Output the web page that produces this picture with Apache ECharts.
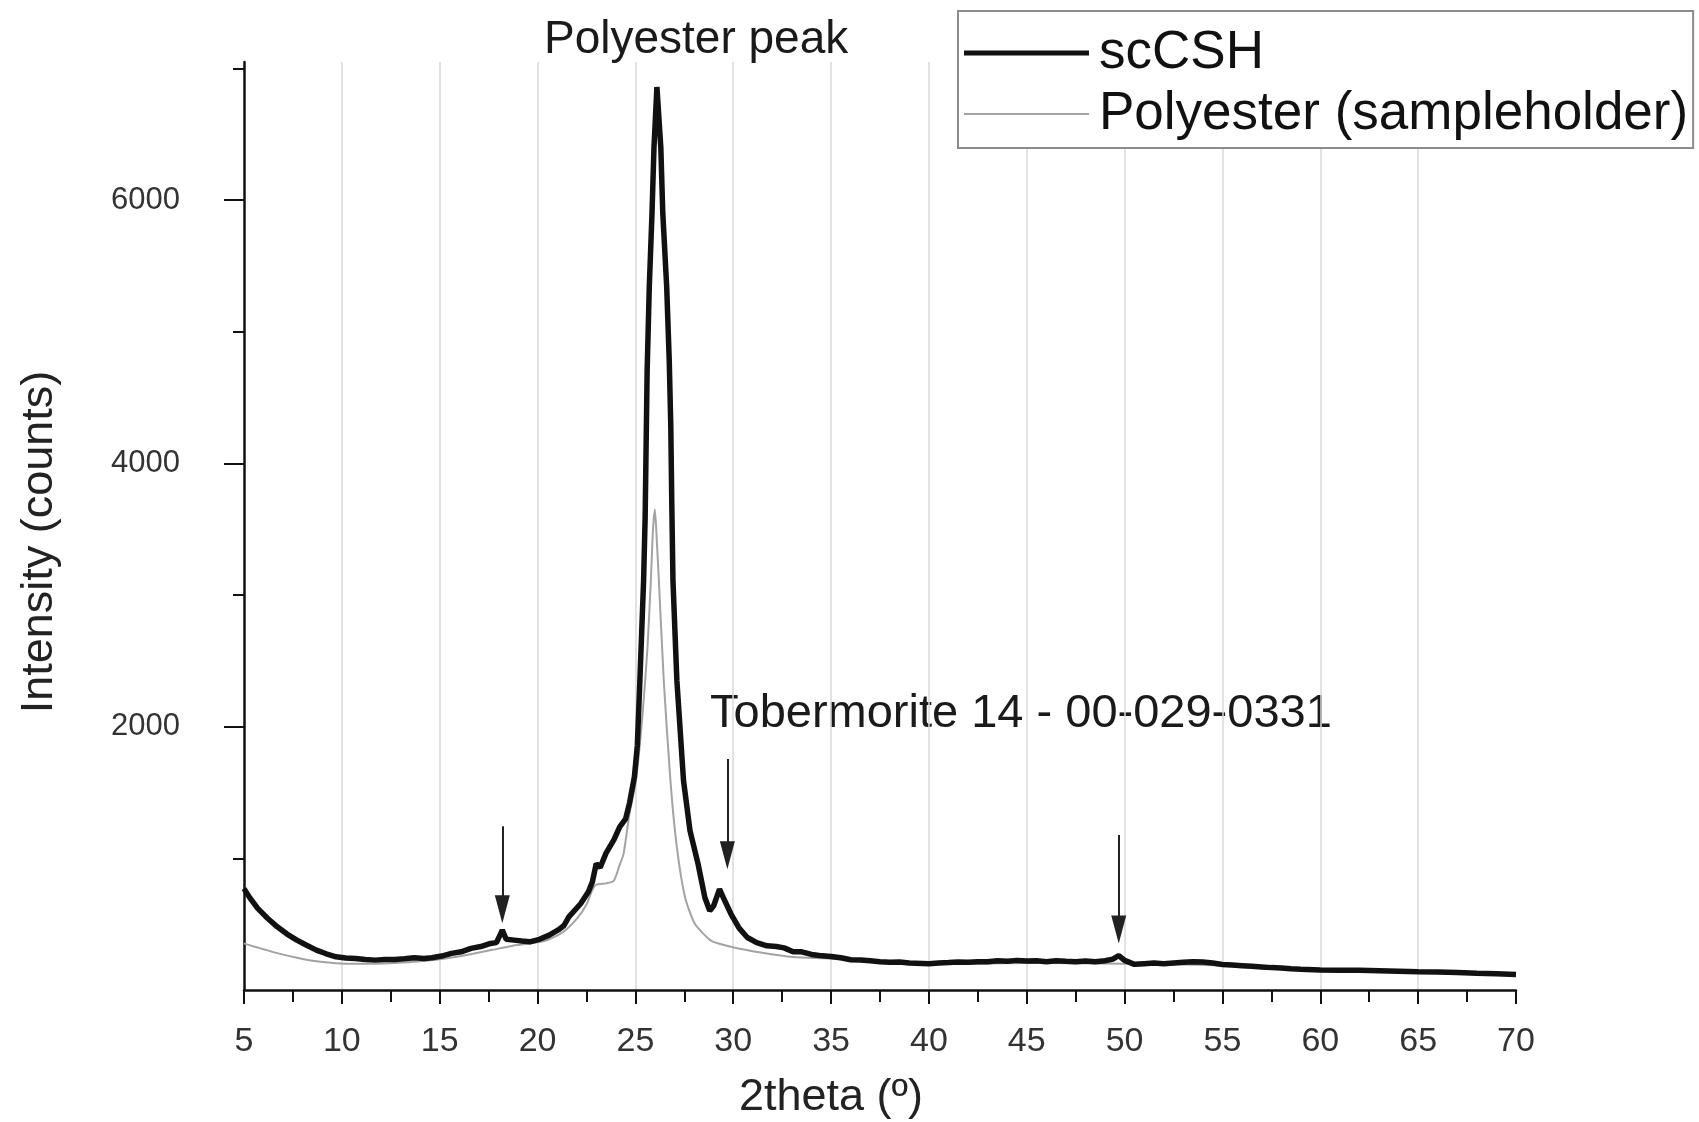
<!DOCTYPE html>
<html>
<head>
  <meta charset="utf-8">
  <title>scCSH XRD</title>
  <script src="https://cdn.jsdelivr.net/npm/echarts@6/dist/echarts.min.js"></script>
  <style>
    html, body { margin: 0; padding: 0; background: #ffffff; }
    #xrdChart { width: 1699px; height: 1122px; }
  </style>
</head>
<body>
<div id="xrdChart"></div>
<script>
  // scCSH pattern (2theta / counts)
  var csh2theta = [5.0, 5.3, 5.7, 6.2, 6.7, 7.2, 7.7, 8.2, 8.7, 9.2, 9.7, 10.2, 10.7, 11.2, 11.7, 12.2, 12.7, 13.2, 13.7, 14.2,
    14.6, 15.1, 15.6, 16.1, 16.6, 17.1, 17.6, 17.9, 18.2, 18.4, 18.8, 19.2, 19.6, 20.1, 20.6, 21.1, 21.35, 21.6, 22.2, 22.6,
    22.8, 23.0, 23.2, 23.5, 23.9, 24.2, 24.5, 24.7, 24.95, 25.1, 25.23, 25.42, 25.5, 25.6, 25.71, 25.85, 25.95, 26.1, 26.3, 26.4,
    26.6, 26.73, 26.81, 26.86, 26.92, 27.12, 27.46, 27.79, 28.2, 28.55, 28.8, 29.0, 29.3, 29.5, 29.88, 30.3, 30.72, 31.2, 31.72, 32.2,
    32.6, 33.06, 33.5, 34.0, 34.4, 35.0, 35.5, 36.0, 36.5, 37.0, 37.5, 38.0, 38.5, 39.0, 40.0, 40.5, 41.0, 41.5, 42.0, 42.5,
    43.0, 43.5, 44.0, 44.5, 45.0, 45.5, 46.0, 46.5, 47.0, 47.5, 48.0, 48.5, 49.0, 49.4, 49.7, 50.0, 50.5, 51.0, 51.5, 52.0,
    52.5, 53.0, 53.5, 54.0, 54.5, 55.0, 55.5, 56.0, 56.5, 57.0, 57.5, 58.0, 58.5, 59.0, 60.0, 61.0, 62.0, 63.0, 64.0, 65.0,
    66.0, 67.0, 68.0, 69.0, 70.0];
  var cshCounts = [770, 700, 620, 545, 480, 425, 379, 340, 303, 275, 252, 243, 240, 232, 227, 232, 232, 238, 245, 240,
    245, 258, 278, 290, 316, 330, 354, 360, 455, 385, 379, 372, 366, 385, 417, 460, 490, 556, 655, 747,
    820, 960, 930, 1040, 1140, 1240, 1300, 1420, 1620, 1860, 2352, 3112, 3600, 4700, 5342, 5903, 6400, 6860, 6400, 5903,
    5342, 4785, 4278, 3700, 3112, 2352, 1591, 1211, 960, 703, 602, 640, 766, 700, 579, 470, 399, 360, 336, 330,
    320, 290, 290, 270, 262, 255, 245, 230, 228, 222, 215, 210, 212, 205, 200, 205, 208, 212, 210, 215,
    215, 222, 218, 225, 220, 222, 215, 222, 218, 215, 220, 215, 222, 235, 262, 225, 195, 200, 205, 200,
    205, 210, 215, 212, 205, 194, 190, 185, 180, 175, 170, 168, 162, 158, 152, 150, 150, 146, 142, 138,
    136, 133, 128, 124, 118];

  // empty polyester sample holder
  var holder2theta = [5.0, 5.5, 6.0, 6.7, 7.7, 8.7, 9.7, 10.7, 11.7, 12.7, 13.7, 14.7, 15.7, 16.7, 17.7, 18.7, 19.7, 20.5, 21.3, 22.0,
    22.5, 22.8, 23.0, 23.5, 23.9, 24.2, 24.4, 24.7, 25.03, 25.37, 25.62, 25.79, 25.9, 26.0, 26.1, 26.2, 26.45, 26.79, 27.12, 27.54,
    28.04, 28.88, 30.05, 31.4, 33.06, 35.0, 37.5, 40.0, 42.5, 45.0, 47.5, 50.0, 52.5, 55.0, 57.5, 60.0, 62.5, 65.0, 67.5, 70.0];
  var holderCounts = [354, 330, 310, 280, 245, 218, 204, 200, 200, 205, 215, 228, 248, 275, 305, 335, 355, 380, 440, 540,
    650, 760, 800, 810, 830, 950, 1036, 1340, 1591, 2100, 2605, 3112, 3500, 3650, 3400, 3112, 2352, 1591, 1084, 703,
    503, 374, 323, 285, 250, 238, 210, 195, 200, 205, 203, 200, 195, 185, 162, 148, 142, 132, 125, 112];

  // Tobermorite 14 reflections marked with arrows
  var arrowAt = [18.2, 29.7, 49.7];
  var arrowTop = [1244, 1754, 1178];
  var arrowTip = [613, 1023, 460];

  var yMajorTicks = [2000, 4000, 6000];
  var yMinorTicks = [1000, 3000, 5000, 7000];

  function pairs(xs, ys) {
    var out = [];
    for (var i = 0; i < xs.length; i++) {
      out.push([xs[i], ys[i]]);
    }
    return out;
  }

  var arrowLines = arrowAt.map(function (x, i) {
    return [
      {coord: [x, arrowTop[i]], symbol: 'none'},
      {coord: [x, arrowTip[i]], symbol: 'path://M5,0 L10,24 L0,24 Z', symbolSize: [15, 28]}
    ];
  });

  // legend samples: thin bars inside a 125x20 box (moveTo points keep the box size)
  var thickIcon = 'path://M0,0 M125,20 M0,7.5 L125,7.5 L125,12.5 L0,12.5 Z';
  var thinIcon = 'path://M0,0 M125,20 M0,9 L125,9 L125,11 L0,11 Z';

  var font = '"Liberation Sans", Arial, sans-serif';
  var chart = echarts.init(document.getElementById('xrdChart'));

  chart.setOption({
    animation: false,
    backgroundColor: '#ffffff',
    textStyle: {fontFamily: font},
    grid: {left: 244, right: 183, top: 62, bottom: 132, outerBoundsMode: 'none'},
    legend: {
      orient: 'vertical',
      left: 958,
      top: 11,
      padding: [13, 5, 5, 6],
      itemGap: 3,
      itemWidth: 125,
      itemHeight: 20,
      backgroundColor: '#ffffff',
      borderColor: '#8c8c8c',
      borderWidth: 2,
      itemStyle: {borderWidth: 0},
      textStyle: {fontSize: 53, lineHeight: 58, color: '#111', fontFamily: font, padding: [0, 0, 0, 5]},
      data: [
        {name: 'scCSH', icon: thickIcon},
        {name: 'Polyester (sampleholder)', icon: thinIcon}
      ]
    },
    xAxis: {
      type: 'value',
      min: 5,
      max: 70,
      interval: 5,
      name: '2theta (º)',
      nameLocation: 'middle',
      nameGap: 85,
      nameTextStyle: {fontSize: 45, color: '#222', padding: [0, 98, 0, 0]},
      axisLine: {lineStyle: {color: '#111', width: 2.5}},
      axisTick: {length: 14, lineStyle: {color: '#111', width: 2}},
      minorTick: {show: true, splitNumber: 2, length: 12, lineStyle: {color: '#111', width: 2}},
      axisLabel: {fontSize: 34, color: '#333', margin: 35},
      splitLine: {show: true, showMinLine: false, showMaxLine: false, lineStyle: {color: '#d9d9d9', width: 1.5}}
    },
    yAxis: [{
      type: 'value',
      min: 0,
      max: 7050,
      interval: 1000,
      name: 'Intensity (counts)',
      nameLocation: 'middle',
      nameGap: 182,
      nameTextStyle: {fontSize: 45, color: '#222', padding: [0, 32, 0, 0]},
      axisLine: {show: true, lineStyle: {color: '#111', width: 2.5}},
      axisTick: {show: true, customValues: yMajorTicks, length: 20, lineStyle: {color: '#111', width: 2}},
      axisLabel: {
        customValues: yMajorTicks,
        fontSize: 31,
        color: '#333',
        margin: 64,
        formatter: function (v) { return String(v); }
      },
      splitLine: {show: false}
    }, {
      // minor ticks only
      type: 'value',
      position: 'left',
      min: 0,
      max: 7050,
      interval: 1000,
      axisLine: {show: false},
      axisTick: {show: true, customValues: yMinorTicks, length: 11, lineStyle: {color: '#111', width: 2}},
      axisLabel: {show: false},
      splitLine: {show: false}
    }],
    series: [
      {
        name: 'Polyester (sampleholder)',
        type: 'line',
        symbol: 'none',
        smooth: 0.2,
        z: 2,
        lineStyle: {color: '#a3a3a3', width: 2},
        itemStyle: {color: '#a3a3a3'},
        data: pairs(holder2theta, holderCounts)
      },
      {
        name: 'scCSH',
        type: 'line',
        symbol: 'none',
        z: 3,
        lineStyle: {color: '#111111', width: 5.5},
        itemStyle: {color: '#111111'},
        data: pairs(csh2theta, cshCounts),
        markLine: {
          silent: true,
          animation: false,
          label: {show: false},
          lineStyle: {color: '#222', width: 2, type: 'solid'},
          data: arrowLines
        }
      }
    ],
    graphic: [
      {
        type: 'text',
        left: 544,
        top: 17,
        style: {text: 'Polyester peak', font: '46px ' + font, fill: '#1a1a1a'}
      },
      {
        type: 'text',
        left: 710,
        top: 691,
        style: {text: 'Tobermorite 14 - 00-029-0331', font: '47px ' + font, fill: '#1a1a1a'}
      }
    ]
  });
</script>
</body>
</html>
